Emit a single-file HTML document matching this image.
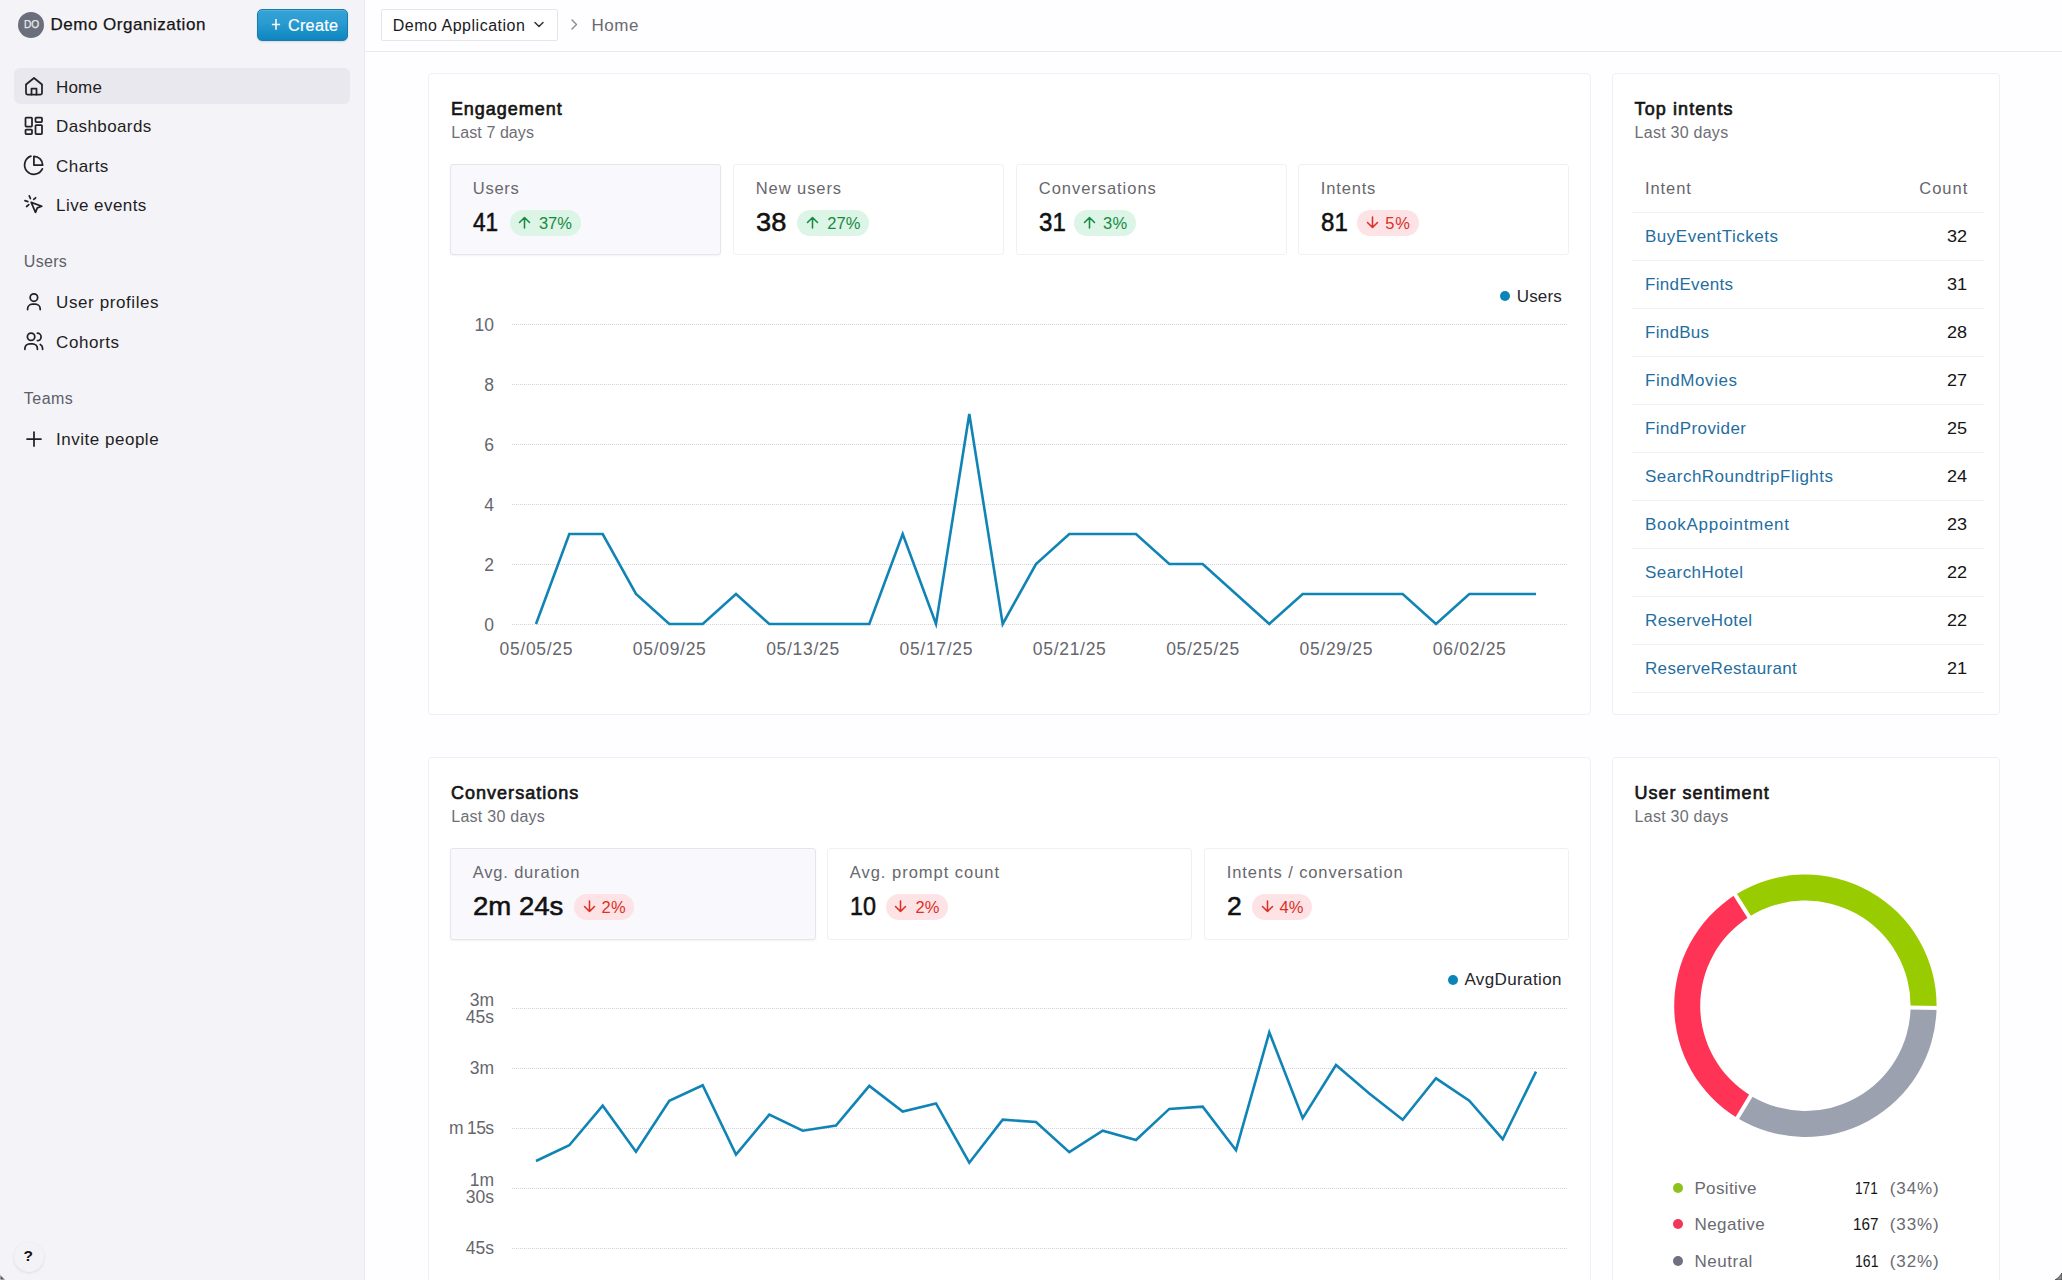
<!DOCTYPE html>
<html><head><meta charset="utf-8"><style>
html,body{margin:0;padding:0;}
body{width:2062px;height:1280px;overflow:hidden;position:relative;background:#FEFDFF;font-family:"Liberation Sans",sans-serif;}
.t{position:absolute;white-space:nowrap;line-height:1;}
.b{position:absolute;}
</style></head><body>
<div class="b" style="left:0px;top:0px;width:365px;height:1280px;background:#F4F3F8;border-right:1px solid #E9E8ED;box-sizing:border-box;"></div>
<div class="b" style="left:18.2px;top:11.7px;width:26.000000000000004px;height:26.000000000000004px;background:#6B6F7B;border-radius:50%;"></div>
<div class="t" style="left:23.75px;top:18.96px;font-size:11.8px;color:#E9EAF0;transform:scaleX(0.8644);transform-origin:0 0;-webkit-text-stroke:0.25px #E9EAF0;">DO</div>
<div class="t" style="left:50.40px;top:16.06px;font-size:17px;color:#151515;letter-spacing:0.531px;-webkit-text-stroke:0.25px #151515;">Demo Organization</div>
<div class="b" style="left:257px;top:9px;width:91px;height:32px;background:linear-gradient(#34A3D6,#2A9AD0 45%,#0C86C0);border:1px solid #1A7CAB;box-sizing:border-box;border-radius:5px;box-shadow:0 1px 2px rgba(0,0,0,.12), inset 0 1px 0 rgba(255,255,255,.15);"></div>
<svg class="b" style="left:270px;top:17px;" width="12" height="14" viewBox="0 0 12 14"><path d="M6 2 V12.8 M1.9 7.4 H10.1" stroke="#fff" stroke-width="1.5" fill="none" stroke-linecap="butt"/></svg>
<div class="t" style="left:288.00px;top:17.05px;font-size:16.3px;color:#FFFFFF;letter-spacing:0.220px;-webkit-text-stroke:0.2px #fff;">Create</div>
<div class="b" style="left:14px;top:68px;width:336px;height:36px;background:#E9E8EE;border-radius:6px;"></div>
<div class="t" style="left:56.10px;top:78.66px;font-size:17px;color:#1E1E22;letter-spacing:0.133px;">Home</div>
<div class="t" style="left:56.10px;top:118.06px;font-size:17px;color:#1E1E22;letter-spacing:0.389px;">Dashboards</div>
<div class="t" style="left:56.10px;top:157.56px;font-size:17px;color:#1E1E22;letter-spacing:0.440px;">Charts</div>
<div class="t" style="left:56.10px;top:197.06px;font-size:17px;color:#1E1E22;letter-spacing:0.420px;">Live events</div>
<div class="t" style="left:23.80px;top:254.11px;font-size:16px;color:#5E5E66;letter-spacing:0.300px;">Users</div>
<div class="t" style="left:56.10px;top:294.16px;font-size:17px;color:#1E1E22;letter-spacing:0.592px;">User profiles</div>
<div class="t" style="left:56.10px;top:333.56px;font-size:17px;color:#1E1E22;letter-spacing:0.583px;">Cohorts</div>
<div class="t" style="left:23.80px;top:390.81px;font-size:16px;color:#5E5E66;letter-spacing:0.475px;">Teams</div>
<div class="t" style="left:56.10px;top:430.86px;font-size:17px;color:#1E1E22;letter-spacing:0.508px;">Invite people</div>
<svg class="b" style="left:24px;top:76px;" width="20" height="20" viewBox="0 0 20 20"><path stroke="#222226" stroke-width="1.75" fill="none" stroke-linecap="round" stroke-linejoin="round" d="M2 8.5 L10 2 L18 8.5 V17 A1.5 1.5 0 0 1 16.5 18.5 H3.5 A1.5 1.5 0 0 1 2 17 Z"/><path stroke="#222226" stroke-width="1.75" fill="none" stroke-linecap="round" stroke-linejoin="round" d="M7.5 18.5 V12.5 H12.5 V18.5"/></svg>
<svg class="b" style="left:24px;top:116px;" width="20" height="20" viewBox="0 0 20 20"><rect stroke="#222226" stroke-width="1.75" fill="none" stroke-linecap="round" stroke-linejoin="round" x="1.5" y="1.5" width="6.5" height="9" rx="0.8"/><rect stroke="#222226" stroke-width="1.75" fill="none" stroke-linecap="round" stroke-linejoin="round" x="11.5" y="1.5" width="6.5" height="4.5" rx="0.8"/><rect stroke="#222226" stroke-width="1.75" fill="none" stroke-linecap="round" stroke-linejoin="round" x="1.5" y="13.5" width="6.5" height="4.5" rx="0.8"/><rect stroke="#222226" stroke-width="1.75" fill="none" stroke-linecap="round" stroke-linejoin="round" x="11.5" y="9" width="6.5" height="9" rx="0.8"/></svg>
<svg class="b" style="left:20px;top:150px;" width="30" height="30" viewBox="20 150 30 30"><path stroke="#222226" stroke-width="1.75" fill="none" stroke-linecap="round" stroke-linejoin="round" d="M30.9,156.2 A9.3,9.3 0 1 0 42.35,168.9"/><path stroke="#222226" stroke-width="1.75" fill="none" stroke-linecap="round" stroke-linejoin="round" d="M33.9,165.05 V156.3 A8.75,8.75 0 0 1 42.65,165.05 Z"/></svg>
<svg class="b" style="left:20px;top:190px;" width="30" height="30" viewBox="20 190 30 30"><path stroke="#222226" stroke-width="1.75" fill="none" stroke-linecap="round" stroke-linejoin="round" d="M31.2,202.4 L41.8,206.3 L37.3,207.9 L35.5,212.3 Z"/><path stroke="#222226" stroke-width="1.75" fill="none" stroke-linecap="round" stroke-linejoin="round" d="M29.3,195.8 L30.4,198.5 M25,200.7 L27.9,201.6 M33.8,199.4 L35.6,197.8 M26.6,206.5 L28.8,204.6"/></svg>
<svg class="b" style="left:20px;top:288px;" width="30" height="30" viewBox="20 288 30 30"><circle stroke="#222226" stroke-width="1.75" fill="none" stroke-linecap="round" stroke-linejoin="round" cx="33.9" cy="297.6" r="3.75"/><path stroke="#222226" stroke-width="1.75" fill="none" stroke-linecap="round" stroke-linejoin="round" d="M27.6,309.6 V309 A4.8,4.8 0 0 1 32.4,304.2 H35.4 A4.8,4.8 0 0 1 40.2,309 V309.6"/></svg>
<svg class="b" style="left:20px;top:326px;" width="30" height="30" viewBox="20 326 30 30"><circle stroke="#222226" stroke-width="1.75" fill="none" stroke-linecap="round" stroke-linejoin="round" cx="31.1" cy="336.8" r="3.7"/><path stroke="#222226" stroke-width="1.75" fill="none" stroke-linecap="round" stroke-linejoin="round" d="M24.9,349.3 V348.5 A4.8,4.8 0 0 1 29.7,343.8 H32.6 A4.8,4.8 0 0 1 37.4,348.5 V349.3"/><path stroke="#222226" stroke-width="1.75" fill="none" stroke-linecap="round" stroke-linejoin="round" d="M37.4,333.2 A3.7,3.7 0 0 1 37.4,340.6"/><path stroke="#222226" stroke-width="1.75" fill="none" stroke-linecap="round" stroke-linejoin="round" d="M40.3,344.5 A4.5,4.5 0 0 1 42.6,348.5 V349.3"/></svg>
<svg class="b" style="left:24px;top:429px;" width="20" height="20" viewBox="0 0 20 20"><path stroke="#222226" stroke-width="1.75" fill="none" stroke-linecap="round" stroke-linejoin="round" d="M10 3 V17 M3 10 H17"/></svg>
<div class="b" style="left:14px;top:1242px;width:30px;height:30px;border-radius:50%;box-shadow:0 1px 3px rgba(0,0,0,.10);background:#F3F2F7;"></div>
<div class="t" style="left:23.55px;top:1248.23px;font-size:15.5px;color:#111;font-weight:700;">?</div>
<svg class="b" style="left:0px;top:1268px;" width="12" height="12" viewBox="0 1268 12 12"><path d="M0,1274.5 L5.5,1280 L0,1280 Z" fill="#555" stroke="#fff" stroke-width="0.8"/></svg>
<svg class="b" style="left:2050px;top:1268px;" width="12" height="12" viewBox="2050 1268 12 12"><path d="M2062,1273 Q2059,1278 2055,1280 L2062,1280 Z" fill="#8A8A8A" stroke="#333" stroke-width="0.7"/></svg>
<div class="b" style="left:365px;top:0px;width:1697px;height:52px;background:#FEFDFF;border-bottom:1px solid #EAE9EE;box-sizing:border-box;"></div>
<div class="b" style="left:381px;top:9px;width:177px;height:32px;border:1px solid #E6E5EA;border-radius:2px;box-sizing:border-box;background:#FFFFFF;"></div>
<div class="t" style="left:392.70px;top:17.81px;font-size:16px;color:#1A1A1E;letter-spacing:0.513px;">Demo Application</div>
<svg class="b" style="left:533px;top:20px;" width="12" height="10" viewBox="0 0 12 10"><path d="M2 2.5 L6 6.5 L10 2.5" stroke="#333" stroke-width="1.5" fill="none" stroke-linecap="round" stroke-linejoin="round"/></svg>
<svg class="b" style="left:569px;top:18px;" width="10" height="13" viewBox="0 0 10 13"><path d="M3 2 L7.5 6.5 L3 11" stroke="#8A8A90" stroke-width="1.4" fill="none" stroke-linecap="round" stroke-linejoin="round"/></svg>
<div class="t" style="left:591.60px;top:16.96px;font-size:17px;color:#6A6A70;letter-spacing:0.500px;">Home</div>
<div class="b" style="left:428px;top:73px;width:1163px;height:642px;background:#FFFFFF;border:1px solid #F0EFF3;border-radius:4px;box-sizing:border-box;"></div>
<div class="b" style="left:1612px;top:73px;width:388px;height:642px;background:#FFFFFF;border:1px solid #F0EFF3;border-radius:4px;box-sizing:border-box;"></div>
<div class="b" style="left:428px;top:757px;width:1163px;height:563px;background:#FFFFFF;border:1px solid #F0EFF3;border-radius:4px;box-sizing:border-box;"></div>
<div class="b" style="left:1612px;top:757px;width:388px;height:563px;background:#FFFFFF;border:1px solid #F0EFF3;border-radius:4px;box-sizing:border-box;"></div>
<div class="t" style="left:450.90px;top:99.61px;font-size:18px;color:#151515;letter-spacing:0.967px;-webkit-text-stroke:0.65px #151515;">Engagement</div>
<div class="t" style="left:451.30px;top:124.71px;font-size:16px;color:#6E6E75;letter-spacing:0.080px;">Last 7 days</div>
<div class="t" style="left:1634.60px;top:99.51px;font-size:18px;color:#151515;letter-spacing:1.090px;-webkit-text-stroke:0.65px #151515;">Top intents</div>
<div class="t" style="left:1634.60px;top:124.91px;font-size:16px;color:#6E6E75;letter-spacing:0.255px;">Last 30 days</div>
<div class="t" style="left:451.00px;top:784.11px;font-size:18px;color:#151515;letter-spacing:1.017px;-webkit-text-stroke:0.65px #151515;">Conversations</div>
<div class="t" style="left:451.30px;top:809.21px;font-size:16px;color:#6E6E75;letter-spacing:0.255px;">Last 30 days</div>
<div class="t" style="left:1634.60px;top:784.11px;font-size:18px;color:#151515;letter-spacing:1.000px;-webkit-text-stroke:0.65px #151515;">User sentiment</div>
<div class="t" style="left:1634.60px;top:809.21px;font-size:16px;color:#6E6E75;letter-spacing:0.255px;">Last 30 days</div>
<div class="b" style="left:450px;top:164px;width:271px;height:91px;background:#F9F8FC;border:1px solid #E6E5EB;border-radius:3px;box-sizing:border-box;box-shadow:0 1px 2px rgba(0,0,0,.05);"></div>
<div class="t" style="left:472.80px;top:180.28px;font-size:16.5px;color:#67676E;letter-spacing:0.725px;">Users</div>
<div class="t" style="left:473.00px;top:209.22px;font-size:26.5px;color:#111111;transform:scaleX(0.8508);transform-origin:0 0;-webkit-text-stroke:0.55px #111;">41</div>
<div class="b" style="left:509.6px;top:209.8px;width:71.29999999999995px;height:25.80000000000001px;background:#DCF5E7;border-radius:13px;"></div>
<svg class="b" style="left:518.1px;top:215.8px;" width="13" height="13" viewBox="0 0 13 13"><path d="M6.5 12 V1.5 M1.5 6.5 L6.5 1.5 L11.5 6.5" stroke="#178A42" stroke-width="1.55" fill="none" stroke-linecap="round" stroke-linejoin="round"/></svg>
<div class="t" style="left:538.90px;top:215.08px;font-size:16.5px;color:#178A42;">37%</div>
<div class="b" style="left:733px;top:164px;width:271px;height:91px;background:#FFFFFF;border:1px solid #F1F0F5;border-radius:3px;box-sizing:border-box;"></div>
<div class="t" style="left:755.80px;top:180.28px;font-size:16.5px;color:#67676E;letter-spacing:0.912px;">New users</div>
<div class="t" style="left:756.00px;top:209.22px;font-size:26.5px;color:#111111;transform:scaleX(1.0271);transform-origin:0 0;-webkit-text-stroke:0.55px #111;">38</div>
<div class="b" style="left:797.4px;top:209.8px;width:72.10000000000002px;height:25.80000000000001px;background:#DCF5E7;border-radius:13px;"></div>
<svg class="b" style="left:805.9px;top:215.8px;" width="13" height="13" viewBox="0 0 13 13"><path d="M6.5 12 V1.5 M1.5 6.5 L6.5 1.5 L11.5 6.5" stroke="#178A42" stroke-width="1.55" fill="none" stroke-linecap="round" stroke-linejoin="round"/></svg>
<div class="t" style="left:827.20px;top:215.08px;font-size:16.5px;color:#178A42;letter-spacing:0.150px;">27%</div>
<div class="b" style="left:1016px;top:164px;width:271px;height:91px;background:#FFFFFF;border:1px solid #F1F0F5;border-radius:3px;box-sizing:border-box;"></div>
<div class="t" style="left:1038.80px;top:180.28px;font-size:16.5px;color:#67676E;letter-spacing:0.958px;">Conversations</div>
<div class="t" style="left:1039.00px;top:209.22px;font-size:26.5px;color:#111111;transform:scaleX(0.9085);transform-origin:0 0;-webkit-text-stroke:0.55px #111;">31</div>
<div class="b" style="left:1074.2px;top:209.8px;width:62.0px;height:25.80000000000001px;background:#DCF5E7;border-radius:13px;"></div>
<svg class="b" style="left:1082.7px;top:215.8px;" width="13" height="13" viewBox="0 0 13 13"><path d="M6.5 12 V1.5 M1.5 6.5 L6.5 1.5 L11.5 6.5" stroke="#178A42" stroke-width="1.55" fill="none" stroke-linecap="round" stroke-linejoin="round"/></svg>
<div class="t" style="left:1103.10px;top:215.08px;font-size:16.5px;color:#178A42;letter-spacing:0.300px;">3%</div>
<div class="b" style="left:1298px;top:164px;width:271px;height:91px;background:#FFFFFF;border:1px solid #F1F0F5;border-radius:3px;box-sizing:border-box;"></div>
<div class="t" style="left:1320.80px;top:180.28px;font-size:16.5px;color:#67676E;letter-spacing:0.833px;">Intents</div>
<div class="t" style="left:1321.00px;top:209.22px;font-size:26.5px;color:#111111;transform:scaleX(0.9085);transform-origin:0 0;-webkit-text-stroke:0.55px #111;">81</div>
<div class="b" style="left:1357.3px;top:209.8px;width:61.700000000000045px;height:25.80000000000001px;background:#FDE3E5;border-radius:13px;"></div>
<svg class="b" style="left:1365.8px;top:215.8px;" width="13" height="13" viewBox="0 0 13 13"><path d="M6.5 1 V11.5 M1.5 6.5 L6.5 11.5 L11.5 6.5" stroke="#DC2F25" stroke-width="1.55" fill="none" stroke-linecap="round" stroke-linejoin="round"/></svg>
<div class="t" style="left:1385.30px;top:215.08px;font-size:16.5px;color:#DC2F25;letter-spacing:0.900px;">5%</div>
<div class="b" style="left:450px;top:848px;width:366px;height:92px;background:#F9F8FC;border:1px solid #E6E5EB;border-radius:3px;box-sizing:border-box;box-shadow:0 1px 2px rgba(0,0,0,.05);"></div>
<div class="t" style="left:472.80px;top:864.28px;font-size:16.5px;color:#67676E;letter-spacing:0.808px;">Avg. duration</div>
<div class="t" style="left:473.00px;top:893.22px;font-size:26.5px;color:#111111;transform:scaleX(1.0403);transform-origin:0 0;-webkit-text-stroke:0.55px #111;">2m 24s</div>
<div class="b" style="left:574.4px;top:893.8px;width:60.10000000000002px;height:25.799999999999955px;background:#FDE3E5;border-radius:13px;"></div>
<svg class="b" style="left:582.9px;top:899.8px;" width="13" height="13" viewBox="0 0 13 13"><path d="M6.5 1 V11.5 M1.5 6.5 L6.5 11.5 L11.5 6.5" stroke="#DC2F25" stroke-width="1.55" fill="none" stroke-linecap="round" stroke-linejoin="round"/></svg>
<div class="t" style="left:601.50px;top:899.08px;font-size:16.5px;color:#DC2F25;letter-spacing:0.200px;">2%</div>
<div class="b" style="left:827px;top:848px;width:365px;height:92px;background:#FFFFFF;border:1px solid #F1F0F5;border-radius:3px;box-sizing:border-box;"></div>
<div class="t" style="left:849.80px;top:864.28px;font-size:16.5px;color:#67676E;letter-spacing:0.981px;">Avg. prompt count</div>
<div class="t" style="left:850.00px;top:893.22px;font-size:26.5px;color:#111111;transform:scaleX(0.8814);transform-origin:0 0;-webkit-text-stroke:0.55px #111;">10</div>
<div class="b" style="left:885.6px;top:893.8px;width:62.799999999999955px;height:25.799999999999955px;background:#FDE3E5;border-radius:13px;"></div>
<svg class="b" style="left:894.1px;top:899.8px;" width="13" height="13" viewBox="0 0 13 13"><path d="M6.5 1 V11.5 M1.5 6.5 L6.5 11.5 L11.5 6.5" stroke="#DC2F25" stroke-width="1.55" fill="none" stroke-linecap="round" stroke-linejoin="round"/></svg>
<div class="t" style="left:915.40px;top:899.08px;font-size:16.5px;color:#DC2F25;letter-spacing:0.200px;">2%</div>
<div class="b" style="left:1204px;top:848px;width:365px;height:92px;background:#FFFFFF;border:1px solid #F1F0F5;border-radius:3px;box-sizing:border-box;"></div>
<div class="t" style="left:1226.80px;top:864.28px;font-size:16.5px;color:#67676E;letter-spacing:0.905px;">Intents / conversation</div>
<div class="t" style="left:1227.00px;top:893.22px;font-size:26.5px;color:#111111;-webkit-text-stroke:0.55px #111;">2</div>
<div class="b" style="left:1252.3px;top:893.8px;width:60.100000000000136px;height:25.799999999999955px;background:#FDE3E5;border-radius:13px;"></div>
<svg class="b" style="left:1260.8px;top:899.8px;" width="13" height="13" viewBox="0 0 13 13"><path d="M6.5 1 V11.5 M1.5 6.5 L6.5 11.5 L11.5 6.5" stroke="#DC2F25" stroke-width="1.55" fill="none" stroke-linecap="round" stroke-linejoin="round"/></svg>
<div class="t" style="left:1279.60px;top:899.08px;font-size:16.5px;color:#DC2F25;">4%</div>
<svg class="b" style="left:0;top:0" width="2062" height="1280">
<line x1="512" y1="324.5" x2="1568" y2="324.5" stroke="#D2D2D9" stroke-width="1" stroke-dasharray="1 1"/>
<line x1="512" y1="384.5" x2="1568" y2="384.5" stroke="#D2D2D9" stroke-width="1" stroke-dasharray="1 1"/>
<line x1="512" y1="444.5" x2="1568" y2="444.5" stroke="#D2D2D9" stroke-width="1" stroke-dasharray="1 1"/>
<line x1="512" y1="504.5" x2="1568" y2="504.5" stroke="#D2D2D9" stroke-width="1" stroke-dasharray="1 1"/>
<line x1="512" y1="564.5" x2="1568" y2="564.5" stroke="#D2D2D9" stroke-width="1" stroke-dasharray="1 1"/>
<line x1="512" y1="624.5" x2="1568" y2="624.5" stroke="#D2D2D9" stroke-width="1" stroke-dasharray="1 1"/>
<polyline points="536.0,624.0 569.3,534.0 602.7,534.0 636.0,594.0 669.3,624.0 702.7,624.0 736.0,594.0 769.3,624.0 802.7,624.0 836.0,624.0 869.3,624.0 902.7,534.0 936.0,624.0 969.3,414.0 1002.7,624.0 1036.0,564.0 1069.3,534.0 1102.7,534.0 1136.0,534.0 1169.3,564.0 1202.7,564.0 1236.0,594.0 1269.3,624.0 1302.7,594.0 1336.0,594.0 1369.3,594.0 1402.7,594.0 1436.0,624.0 1469.3,594.0 1502.7,594.0 1536.0,594.0" fill="none" stroke="#1184B6" stroke-width="2.6" stroke-linejoin="miter" stroke-linecap="butt"/>
<line x1="512" y1="1008.5" x2="1568" y2="1008.5" stroke="#D2D2D9" stroke-width="1" stroke-dasharray="1 1"/>
<line x1="512" y1="1068.5" x2="1568" y2="1068.5" stroke="#D2D2D9" stroke-width="1" stroke-dasharray="1 1"/>
<line x1="512" y1="1128.5" x2="1568" y2="1128.5" stroke="#D2D2D9" stroke-width="1" stroke-dasharray="1 1"/>
<line x1="512" y1="1188.5" x2="1568" y2="1188.5" stroke="#D2D2D9" stroke-width="1" stroke-dasharray="1 1"/>
<line x1="512" y1="1248.5" x2="1568" y2="1248.5" stroke="#D2D2D9" stroke-width="1" stroke-dasharray="1 1"/>
<polyline points="536.0,1161.0 569.3,1145.3 602.7,1105.7 636.0,1151.7 669.3,1100.7 702.7,1085.3 736.0,1154.6 769.3,1114.7 802.7,1130.7 836.0,1125.5 869.3,1085.9 902.7,1111.5 936.0,1103.4 969.3,1162.7 1002.7,1119.7 1036.0,1122.0 1069.3,1152.2 1102.7,1130.7 1136.0,1140.0 1169.3,1108.9 1202.7,1106.6 1236.0,1150.2 1269.3,1032.4 1302.7,1118.2 1336.0,1065.0 1369.3,1093.5 1402.7,1119.7 1436.0,1078.3 1469.3,1100.7 1502.7,1139.2 1536.0,1071.6" fill="none" stroke="#1184B6" stroke-width="2.6" stroke-linejoin="miter"/>
<path d="M1936.58,1008.04 A131.2,131.2 0 0 0 1735.29,894.85 L1749.19,916.83 A105.2,105.2 0 0 1 1910.58,1007.59 Z" fill="#99CC00"/>
<path d="M1735.29,894.85 A131.2,131.2 0 0 0 1737.34,1117.91 L1750.83,1095.69 A105.2,105.2 0 0 1 1749.19,916.83 Z" fill="#FF3355"/>
<path d="M1737.34,1117.91 A131.2,131.2 0 0 0 1936.58,1008.04 L1910.58,1007.59 A105.2,105.2 0 0 1 1750.83,1095.69 Z" fill="#9BA1AF"/>
<line x1="1907.58" y1="1007.53" x2="1939.58" y2="1008.09" stroke="#FFFFFF" stroke-width="4"/>
<line x1="1750.79" y1="919.36" x2="1733.69" y2="892.32" stroke="#FFFFFF" stroke-width="4"/>
<line x1="1752.38" y1="1093.12" x2="1735.78" y2="1120.48" stroke="#FFFFFF" stroke-width="4"/>
</svg>
<div class="t" style="left:474.50px;top:317.04px;font-size:17.5px;color:#66666D;">10</div>
<div class="t" style="left:484.30px;top:377.04px;font-size:17.5px;color:#66666D;">8</div>
<div class="t" style="left:484.30px;top:437.04px;font-size:17.5px;color:#66666D;">6</div>
<div class="t" style="left:484.30px;top:497.04px;font-size:17.5px;color:#66666D;">4</div>
<div class="t" style="left:484.30px;top:557.04px;font-size:17.5px;color:#66666D;">2</div>
<div class="t" style="left:484.30px;top:617.04px;font-size:17.5px;color:#66666D;">0</div>
<div class="t" style="left:499.50px;top:641.24px;font-size:17.5px;color:#66666D;letter-spacing:0.700px;">05/05/25</div>
<div class="t" style="left:632.83px;top:641.24px;font-size:17.5px;color:#66666D;letter-spacing:0.700px;">05/09/25</div>
<div class="t" style="left:766.17px;top:641.24px;font-size:17.5px;color:#66666D;letter-spacing:0.700px;">05/13/25</div>
<div class="t" style="left:899.50px;top:641.24px;font-size:17.5px;color:#66666D;letter-spacing:0.700px;">05/17/25</div>
<div class="t" style="left:1032.83px;top:641.24px;font-size:17.5px;color:#66666D;letter-spacing:0.700px;">05/21/25</div>
<div class="t" style="left:1166.17px;top:641.24px;font-size:17.5px;color:#66666D;letter-spacing:0.700px;">05/25/25</div>
<div class="t" style="left:1299.50px;top:641.24px;font-size:17.5px;color:#66666D;letter-spacing:0.700px;">05/29/25</div>
<div class="t" style="left:1432.83px;top:641.24px;font-size:17.5px;color:#66666D;letter-spacing:0.700px;">06/02/25</div>
<div class="b" style="left:1500px;top:290.8px;width:10px;height:10.0px;background:#0B85B8;border-radius:50%;"></div>
<div class="t" style="left:1516.80px;top:287.56px;font-size:17px;color:#26262C;letter-spacing:0.150px;">Users</div>
<div class="t" style="left:469.70px;top:992.04px;font-size:17.5px;color:#66666D;">3m</div>
<div class="t" style="left:465.80px;top:1009.04px;font-size:17.5px;color:#66666D;">45s</div>
<div class="t" style="left:469.70px;top:1060.04px;font-size:17.5px;color:#66666D;">3m</div>
<div class="t" style="left:449.00px;top:1120.04px;font-size:17.5px;color:#66666D;letter-spacing:-0.675px;">m 15s</div>
<div class="t" style="left:469.70px;top:1171.54px;font-size:17.5px;color:#66666D;">1m</div>
<div class="t" style="left:465.80px;top:1188.54px;font-size:17.5px;color:#66666D;">30s</div>
<div class="t" style="left:465.80px;top:1240.04px;font-size:17.5px;color:#66666D;">45s</div>
<div class="b" style="left:1448px;top:974.7px;width:10px;height:10.0px;background:#0B85B8;border-radius:50%;"></div>
<div class="t" style="left:1464.40px;top:971.46px;font-size:17px;color:#26262C;letter-spacing:0.390px;">AvgDuration</div>
<div class="t" style="left:1645.00px;top:179.98px;font-size:16.5px;color:#66666D;letter-spacing:0.920px;">Intent</div>
<div class="t" style="left:1919.30px;top:179.98px;font-size:16.5px;color:#66666D;letter-spacing:0.975px;">Count</div>
<div class="b" style="left:1632px;top:212px;width:352px;height:1px;background:#F0EFF4;"></div>
<div class="t" style="left:1645.00px;top:228.46px;font-size:17px;color:#1F6E9F;letter-spacing:0.500px;">BuyEventTickets</div>
<div class="t" style="left:1946.60px;top:228.46px;font-size:17px;color:#151515;transform:scaleX(1.0635);transform-origin:0 0;">32</div>
<div class="b" style="left:1632px;top:260px;width:352px;height:1px;background:#F0EFF4;"></div>
<div class="t" style="left:1645.00px;top:276.46px;font-size:17px;color:#1F6E9F;letter-spacing:0.333px;">FindEvents</div>
<div class="t" style="left:1946.60px;top:276.46px;font-size:17px;color:#151515;transform:scaleX(1.0635);transform-origin:0 0;">31</div>
<div class="b" style="left:1632px;top:308px;width:352px;height:1px;background:#F0EFF4;"></div>
<div class="t" style="left:1645.00px;top:324.46px;font-size:17px;color:#1F6E9F;letter-spacing:0.267px;">FindBus</div>
<div class="t" style="left:1946.60px;top:324.46px;font-size:17px;color:#151515;transform:scaleX(1.0635);transform-origin:0 0;">28</div>
<div class="b" style="left:1632px;top:356px;width:352px;height:1px;background:#F0EFF4;"></div>
<div class="t" style="left:1645.00px;top:372.46px;font-size:17px;color:#1F6E9F;letter-spacing:0.567px;">FindMovies</div>
<div class="t" style="left:1946.60px;top:372.46px;font-size:17px;color:#151515;transform:scaleX(1.0635);transform-origin:0 0;">27</div>
<div class="b" style="left:1632px;top:404px;width:352px;height:1px;background:#F0EFF4;"></div>
<div class="t" style="left:1645.00px;top:420.46px;font-size:17px;color:#1F6E9F;letter-spacing:0.418px;">FindProvider</div>
<div class="t" style="left:1946.60px;top:420.46px;font-size:17px;color:#151515;transform:scaleX(1.0635);transform-origin:0 0;">25</div>
<div class="b" style="left:1632px;top:452px;width:352px;height:1px;background:#F0EFF4;"></div>
<div class="t" style="left:1645.00px;top:468.46px;font-size:17px;color:#1F6E9F;letter-spacing:0.495px;">SearchRoundtripFlights</div>
<div class="t" style="left:1946.60px;top:468.46px;font-size:17px;color:#151515;transform:scaleX(1.0635);transform-origin:0 0;">24</div>
<div class="b" style="left:1632px;top:500px;width:352px;height:1px;background:#F0EFF4;"></div>
<div class="t" style="left:1645.00px;top:516.46px;font-size:17px;color:#1F6E9F;letter-spacing:0.700px;">BookAppointment</div>
<div class="t" style="left:1946.60px;top:516.46px;font-size:17px;color:#151515;transform:scaleX(1.0635);transform-origin:0 0;">23</div>
<div class="b" style="left:1632px;top:548px;width:352px;height:1px;background:#F0EFF4;"></div>
<div class="t" style="left:1645.00px;top:564.46px;font-size:17px;color:#1F6E9F;letter-spacing:0.440px;">SearchHotel</div>
<div class="t" style="left:1946.60px;top:564.46px;font-size:17px;color:#151515;transform:scaleX(1.0635);transform-origin:0 0;">22</div>
<div class="b" style="left:1632px;top:596px;width:352px;height:1px;background:#F0EFF4;"></div>
<div class="t" style="left:1645.00px;top:612.46px;font-size:17px;color:#1F6E9F;letter-spacing:0.364px;">ReserveHotel</div>
<div class="t" style="left:1946.60px;top:612.46px;font-size:17px;color:#151515;transform:scaleX(1.0635);transform-origin:0 0;">22</div>
<div class="b" style="left:1632px;top:644px;width:352px;height:1px;background:#F0EFF4;"></div>
<div class="t" style="left:1645.00px;top:660.46px;font-size:17px;color:#1F6E9F;letter-spacing:0.331px;">ReserveRestaurant</div>
<div class="t" style="left:1946.60px;top:660.46px;font-size:17px;color:#151515;transform:scaleX(1.0635);transform-origin:0 0;">21</div>
<div class="b" style="left:1632px;top:692px;width:352px;height:1px;background:#F0EFF4;"></div>
<div class="b" style="left:1672.8px;top:1182.6px;width:10.0px;height:10.0px;background:#8CC21A;border-radius:50%;"></div>
<div class="t" style="left:1694.40px;top:1179.96px;font-size:17px;color:#6A6A72;letter-spacing:0.371px;">Positive</div>
<div class="t" style="left:1855.40px;top:1179.96px;font-size:17px;color:#151515;transform:scaleX(0.8028);transform-origin:0 0;">171</div>
<div class="t" style="left:1889.80px;top:1179.96px;font-size:17px;color:#6A6A72;letter-spacing:0.875px;">(34%)</div>
<div class="b" style="left:1672.8px;top:1219.1px;width:10.0px;height:10.0px;background:#F0395A;border-radius:50%;"></div>
<div class="t" style="left:1694.40px;top:1216.46px;font-size:17px;color:#6A6A72;letter-spacing:0.471px;">Negative</div>
<div class="t" style="left:1852.70px;top:1216.46px;font-size:17px;color:#151515;transform:scaleX(0.8979);transform-origin:0 0;">167</div>
<div class="t" style="left:1889.80px;top:1216.46px;font-size:17px;color:#6A6A72;letter-spacing:0.875px;">(33%)</div>
<div class="b" style="left:1672.8px;top:1255.6px;width:10.0px;height:10.0px;background:#6F7180;border-radius:50%;"></div>
<div class="t" style="left:1694.40px;top:1252.96px;font-size:17px;color:#6A6A72;letter-spacing:0.533px;">Neutral</div>
<div class="t" style="left:1854.70px;top:1252.96px;font-size:17px;color:#151515;transform:scaleX(0.8275);transform-origin:0 0;">161</div>
<div class="t" style="left:1889.80px;top:1252.96px;font-size:17px;color:#6A6A72;letter-spacing:0.875px;">(32%)</div>
</body></html>
